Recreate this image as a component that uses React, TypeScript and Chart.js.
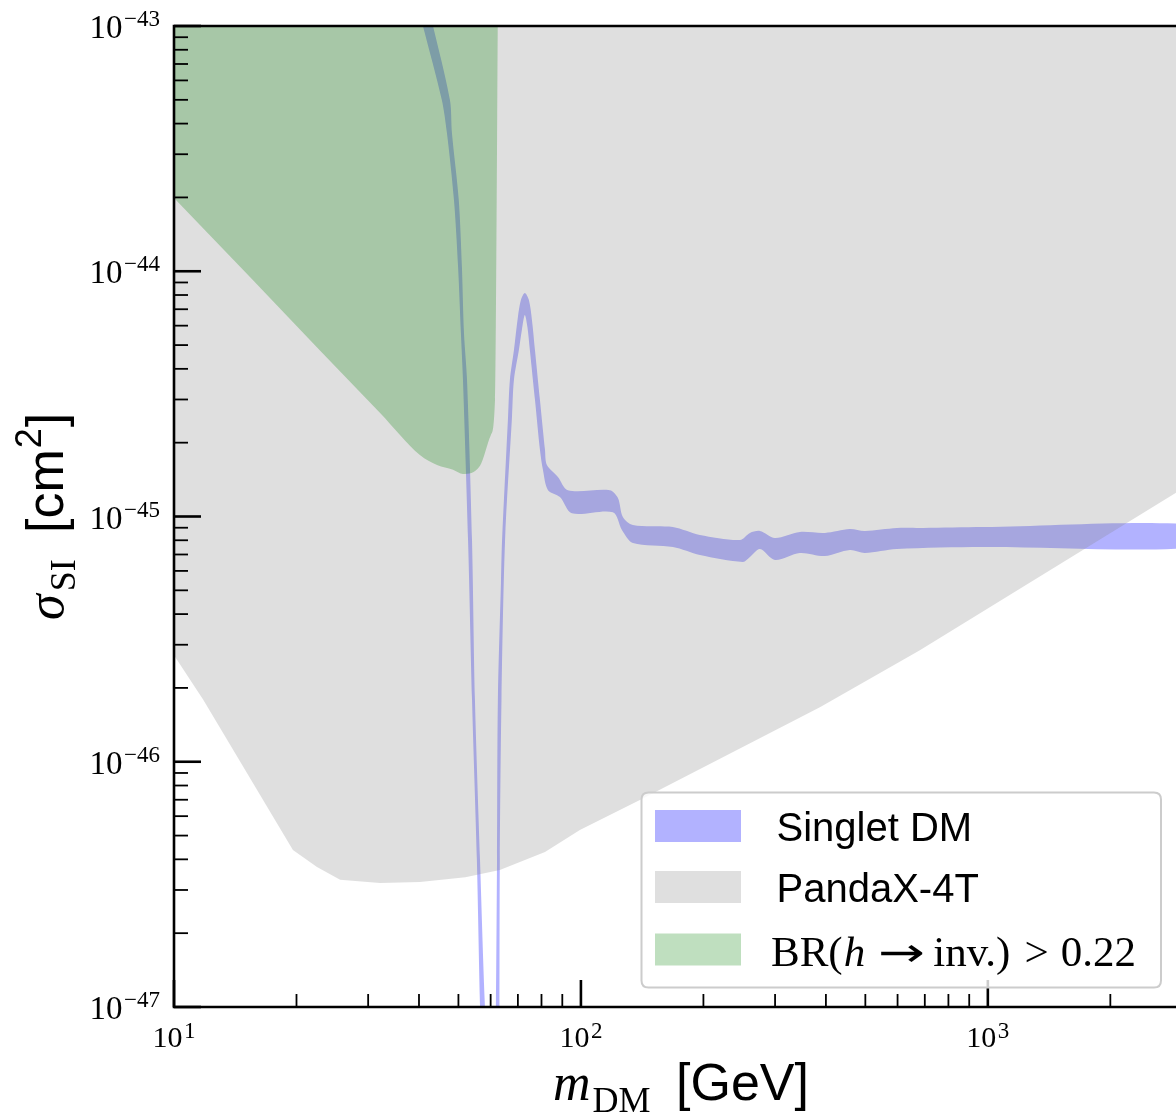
import React, { useEffect, useRef } from "react";
import { Chart, registerables } from "chart.js";

Chart.register(...registerables);

// ---- axis ranges ----
const massMin = 10;
const massMax = 2900;
const sigmaMin = 1e-47;
const sigmaMax = 1e-43;

// ---- tick values / labels ----
const xMajorTicks = [10, 100, 1000];
const xMajorExponents = ["1", "2", "3"];
const xMinorTicks = [20, 30, 40, 50, 60, 70, 80, 90, 200, 300, 400, 500, 600, 700, 800, 900, 2000];
const yMajorTicks = [1e-47, 1e-46, 1e-45, 1e-44, 1e-43];
const yMajorExponents = ["\u221247", "\u221246", "\u221245", "\u221244", "\u221243"];
const yMinorMultipliers = [2, 3, 4, 5, 6, 7, 8, 9];
const yMinorDecades = [1e-47, 1e-46, 1e-45, 1e-44];

// ---- PandaX-4T exclusion limit (excluded above) ----
const pandaxMass = [10, 11.8, 19.6, 22.46, 25.6, 32.1, 40.2, 52.0, 63.2, 81.6, 99.4, 139.6, 386.6, 680.6, 2900];
const pandaxSigma = [2.72e-46, 1.79e-46, 4.37e-47, 3.72e-47, 3.3e-47, 3.2e-47, 3.23e-47, 3.38e-47, 3.62e-47, 4.29e-47, 5.27e-47, 6.98e-47, 1.67e-46, 2.85e-46, 1.25e-45];

// ---- BR(h -> inv.) > 0.22 excluded region (above curve) ----
const brMass = [10, 15.37, 22.84, 32.1, 40.2, 44.3, 48.5, 51.3, 56.5, 60.1, 61.5, 62.5];
const brSigma = [1.99e-44, 9.47e-45, 4.75e-45, 2.64e-45, 1.78e-45, 1.62e-45, 1.55e-45, 1.49e-45, 1.61e-45, 2.15e-45, 2.99e-45, 1e-43];

// ---- Singlet DM band: upper edge and lower edge (both left -> right) ----
const singletUpperMass = [40.7, 43.3, 47.65, 48.2, 50.1, 51.0, 51.6, 52.5, 54.0, 54.9, 56.5, 58.1, 59.1, 61.5, 61.8, 62.2, 62.5, 63.6, 64.0, 66.2, 66.9, 68.45, 70.0, 71.2, 72.8, 74.5, 75.8, 77.1, 79.3, 81.6, 82.5, 87.8, 92.9, 117.8, 123.3, 126.8, 134.2, 168.3, 196.1, 245.9, 260.2, 275.4, 299.7, 345.2, 397.7, 458.1, 498.7, 597.6, 692.2, 971.9, 3318];
const singletUpperSigma = [1.5e-43, 1.0e-43, 5.0e-44, 3.66e-44, 1.95e-44, 1.04e-44, 5.6e-45, 3.6e-45, 8.0e-46, 1.79e-46, 3.98e-47, 1.0e-47, 6.7e-48, 6.7e-48, 1.0e-47, 3.98e-47, 1.79e-46, 5.36e-46, 8.0e-46, 2.54e-45, 3.6e-45, 4.77e-45, 6.51e-45, 7.63e-45, 8.15e-45, 7.63e-45, 6.33e-45, 4.77e-45, 2.99e-45, 1.87e-45, 1.62e-45, 1.45e-45, 1.28e-45, 1.28e-45, 1.19e-45, 9.95e-46, 9.23e-46, 9.06e-46, 8.41e-46, 8.02e-46, 8.57e-46, 8.73e-46, 8.18e-46, 8.65e-46, 8.57e-46, 8.89e-46, 8.73e-46, 8.98e-46, 8.98e-46, 9.06e-46, 9.23e-46];
const singletLowerMass = [38.4, 40.9, 45.5, 46.85, 48.75, 49.9, 50.7, 51.3, 52.8, 54.0, 55.5, 56.5, 57.1, 62.9, 63.06, 63.2, 63.8, 65.1, 67.7, 68.45, 70.4, 71.6, 72.8, 73.9, 74.9, 77.1, 79.3, 80.65, 83.0, 88.8, 95.0, 119.8, 126.1, 134.2, 168.3, 196.1, 250.0, 260.2, 275.4, 299.7, 345.2, 397.7, 458.1, 498.7, 597.6, 971.9, 3318];
const singletLowerSigma = [1.5e-43, 1.0e-43, 5.0e-44, 3.66e-44, 1.95e-44, 1.04e-44, 5.6e-45, 3.6e-45, 8.0e-46, 1.79e-46, 3.98e-47, 1.0e-47, 6.1e-48, 6.1e-48, 1.0e-47, 3.98e-47, 1.79e-46, 8.0e-46, 2.54e-45, 3.6e-45, 4.77e-45, 5.76e-45, 6.63e-45, 5.9e-45, 4.77e-45, 2.99e-45, 1.87e-45, 1.55e-45, 1.28e-45, 1.2e-45, 1.03e-45, 1.04e-45, 8.81e-46, 7.8e-46, 7.51e-46, 6.97e-46, 6.53e-46, 6.84e-46, 7.37e-46, 6.65e-46, 7.1e-46, 6.9e-46, 7.3e-46, 7.1e-46, 7.37e-46, 7.51e-46, 7.51e-46];

// ---- labels / colours ----
const seriesLabels = ["BR(h \u2192 inv.) > 0.22", "PandaX-4T", "Singlet DM"];
const seriesColors = ["rgba(0,128,0,0.25)", "rgba(128,128,128,0.25)", "rgba(0,0,255,0.3)"];
const legendOrder = [2, 1, 0];

const SERIF = '"Liberation Serif", "DejaVu Serif", serif';
const SANS = '"Liberation Sans", Arial, sans-serif';

function zip(xs: number[], ys: number[]) {
  return xs.map((x, i) => ({ x, y: ys[i] }));
}

function drawPower(ctx: CanvasRenderingContext2D, exp: string, x: number, y: number, align: string, baseSize: number, expSize: number, rise: number) {
  ctx.font = `${baseSize}px ${SERIF}`;
  const wb = ctx.measureText("10").width;
  ctx.font = `${expSize}px ${SERIF}`;
  const we = ctx.measureText(exp).width;
  const gap = 1.5;
  const total = wb + gap + we;
  const x0 = align === "right" ? x - total : x - total / 2;
  ctx.font = `${baseSize}px ${SERIF}`;
  ctx.fillText("10", x0, y);
  ctx.font = `${expSize}px ${SERIF}`;
  ctx.fillText(exp, x0 + wb + gap, y - rise);
}

const overlayPlugin = {
  id: "overlay",
  afterDatasetsDraw(chart: any) {
    const ctx: CanvasRenderingContext2D = chart.ctx;
    const xs = chart.scales.x;
    const ys = chart.scales.y;
    const a = chart.chartArea;
    ctx.save();
    ctx.strokeStyle = "#000";
    ctx.fillStyle = "#000";
    ctx.lineCap = "butt";

    // y ticks (inward)
    ctx.lineWidth = 1.8;
    for (const d of yMinorDecades) {
      for (const m of yMinorMultipliers) {
        const py = ys.getPixelForValue(d * m);
        ctx.beginPath();
        ctx.moveTo(a.left, py);
        ctx.lineTo(a.left + 14, py);
        ctx.stroke();
      }
    }
    ctx.lineWidth = 2.6;
    yMajorTicks.forEach((v) => {
      const py = ys.getPixelForValue(v);
      ctx.beginPath();
      ctx.moveTo(a.left, py);
      ctx.lineTo(a.left + 27, py);
      ctx.stroke();
    });
    // x ticks (inward)
    ctx.lineWidth = 1.8;
    xMinorTicks.forEach((v) => {
      const px = xs.getPixelForValue(v);
      ctx.beginPath();
      ctx.moveTo(px, a.bottom);
      ctx.lineTo(px, a.bottom - 13);
      ctx.stroke();
    });
    ctx.lineWidth = 2.6;
    xMajorTicks.forEach((v) => {
      const px = xs.getPixelForValue(v);
      ctx.beginPath();
      ctx.moveTo(px, a.bottom);
      ctx.lineTo(px, a.bottom - 27);
      ctx.stroke();
    });

    // spines
    ctx.lineWidth = 2.6;
    ctx.beginPath();
    ctx.moveTo(a.right + 2, a.top);
    ctx.lineTo(a.left, a.top);
    ctx.lineTo(a.left, a.bottom);
    ctx.lineTo(a.right + 2, a.bottom);
    ctx.stroke();

    // tick labels
    ctx.textAlign = "left";
    ctx.textBaseline = "alphabetic";
    yMajorTicks.forEach((v, i) => {
      const py = ys.getPixelForValue(v);
      drawPower(ctx, yMajorExponents[i], a.left - 14, py + 12, "right", 33, 23, 12);
    });
    xMajorTicks.forEach((v, i) => {
      const px = xs.getPixelForValue(v);
      drawPower(ctx, xMajorExponents[i], px, 1047, "center", 30, 23, 9);
    });

    // x title
    ctx.font = `italic 52px ${SERIF}`;
    ctx.fillText("m", 553, 1100);
    const wm = ctx.measureText("m").width;
    ctx.font = `36px ${SERIF}`;
    ctx.fillText("DM", 553 + wm + 2, 1112);
    ctx.font = `52px ${SANS}`;
    ctx.fillText("[GeV]", 676, 1100);

    // y title (rotated)
    ctx.save();
    ctx.translate(63, 620);
    ctx.rotate(-Math.PI / 2);
    ctx.font = `italic 52px ${SERIF}`;
    ctx.fillText("\u03c3", 0, 0);
    const ws = ctx.measureText("\u03c3").width;
    ctx.font = `36px ${SERIF}`;
    ctx.fillText("SI", ws + 3, 12);
    ctx.font = `52px ${SANS}`;
    ctx.fillText("[cm", 87, 0);
    const wc = ctx.measureText("[cm").width;
    ctx.font = `36px ${SANS}`;
    ctx.fillText("2", 87 + wc + 1, -22);
    const w2 = ctx.measureText("2").width;
    ctx.font = `52px ${SANS}`;
    ctx.fillText("]", 87 + wc + w2 + 2, 0);
    ctx.restore();

    // legend
    const bx = 641.5, by = 792.5, bw = 519.5, bh = 195, r = 7;
    ctx.beginPath();
    ctx.moveTo(bx + r, by);
    ctx.lineTo(bx + bw - r, by);
    ctx.quadraticCurveTo(bx + bw, by, bx + bw, by + r);
    ctx.lineTo(bx + bw, by + bh - r);
    ctx.quadraticCurveTo(bx + bw, by + bh, bx + bw - r, by + bh);
    ctx.lineTo(bx + r, by + bh);
    ctx.quadraticCurveTo(bx, by + bh, bx, by + bh - r);
    ctx.lineTo(bx, by + r);
    ctx.quadraticCurveTo(bx, by, bx + r, by);
    ctx.closePath();
    ctx.fillStyle = "rgba(255,255,255,0.8)";
    ctx.fill();
    ctx.strokeStyle = "rgb(204,204,204)";
    ctx.lineWidth = 2;
    ctx.stroke();

    const rowCenters = [826, 887, 949.5];
    legendOrder.forEach((di, row) => {
      const ds = chart.data.datasets[di];
      const cy = rowCenters[row];
      ctx.fillStyle = "#fff";
      ctx.fillRect(655, cy - 16, 86, 32);
      ctx.fillStyle = ds.backgroundColor;
      ctx.fillRect(655, cy - 16, 86, 32);
      ctx.fillStyle = "#000";
      const label: string = ds.label;
      const base = cy + 15;
      if (label.indexOf("\u2192") >= 0) {
        // math-style label: BR(h -> inv.) > 0.22
        const pre = label.slice(0, label.indexOf("h"));
        const post = label.slice(label.indexOf("\u2192") + 1).trim();
        const postMain = post.slice(0, post.indexOf(">")).trim();
        const postEnd = post.slice(post.indexOf(">") + 1).trim();
        const size = 43;
        const yb = base + 1;
        let x = 771;
        ctx.font = `${size}px ${SERIF}`;
        ctx.fillText(pre, x, yb);
        x += ctx.measureText(pre).width + 1;
        ctx.font = `italic ${size}px ${SERIF}`;
        ctx.fillText("h", x, yb);
        x += ctx.measureText("h").width + 13;
        // arrow
        ctx.save();
        ctx.font = `40px "DejaVu Sans", sans-serif`;
        const wa = ctx.measureText("\u2192").width;
        ctx.translate(x, yb);
        ctx.scale(47 / wa, 1);
        ctx.fillText("\u2192", 0, 0);
        ctx.restore();
        x += 47 + 8;
        ctx.font = `${size}px ${SERIF}`;
        ctx.fillText(postMain, x, yb);
        x += ctx.measureText(postMain).width + 14;
        ctx.fillText(">", x, yb);
        x += ctx.measureText(">").width + 12;
        ctx.fillText(postEnd, x, yb);
      } else {
        ctx.font = `40px ${SANS}`;
        ctx.fillText(label, 776.5, base);
      }
    });

    ctx.restore();
  },
};

export default function App() {
  const canvasRef = useRef<HTMLCanvasElement | null>(null);

  useEffect(() => {
    const canvas = canvasRef.current;
    if (!canvas) return;
    const singletPolygon = [
      ...zip(singletUpperMass, singletUpperSigma),
      ...zip(singletLowerMass, singletLowerSigma).reverse(),
    ];
    const chart = new Chart(canvas, {
      type: "scatter",
      data: {
        datasets: [
          {
            label: seriesLabels[0],
            data: zip(brMass, brSigma),
            showLine: true,
            fill: "end",
            backgroundColor: seriesColors[0],
            borderColor: "rgba(0,0,0,0)",
            borderWidth: 0,
            pointRadius: 0,
            cubicInterpolationMode: "monotone",
          },
          {
            label: seriesLabels[1],
            data: zip(pandaxMass, pandaxSigma),
            showLine: true,
            fill: "end",
            backgroundColor: seriesColors[1],
            borderColor: "rgba(0,0,0,0)",
            borderWidth: 0,
            pointRadius: 0,
            tension: 0,
          },
          {
            label: seriesLabels[2],
            data: singletPolygon,
            showLine: true,
            fill: "shape",
            backgroundColor: seriesColors[2],
            borderColor: "rgba(0,0,0,0)",
            borderWidth: 0,
            pointRadius: 0,
            tension: 0.3,
            capBezierPoints: false,
          },
        ],
      } as any,
      options: {
        responsive: false,
        animation: false,
        events: [],
        layout: { padding: { left: 174, top: 26, right: 0, bottom: 110 } },
        scales: {
          x: { type: "logarithmic", min: massMin, max: massMax, display: false, bounds: "data" } as any,
          y: { type: "logarithmic", min: sigmaMin, max: sigmaMax, display: false, bounds: "data" } as any,
        },
        plugins: {
          legend: { display: false },
          tooltip: { enabled: false },
        },
      } as any,
      plugins: [overlayPlugin],
    });
    return () => chart.destroy();
  }, []);

  return (
    <div style={{ position: "fixed", left: 0, top: 0, width: 1176, height: 1117, background: "#fff" }}>
      <canvas ref={canvasRef} width={1176} height={1117} style={{ display: "block", width: 1176, height: 1117 }} />
    </div>
  );
}
